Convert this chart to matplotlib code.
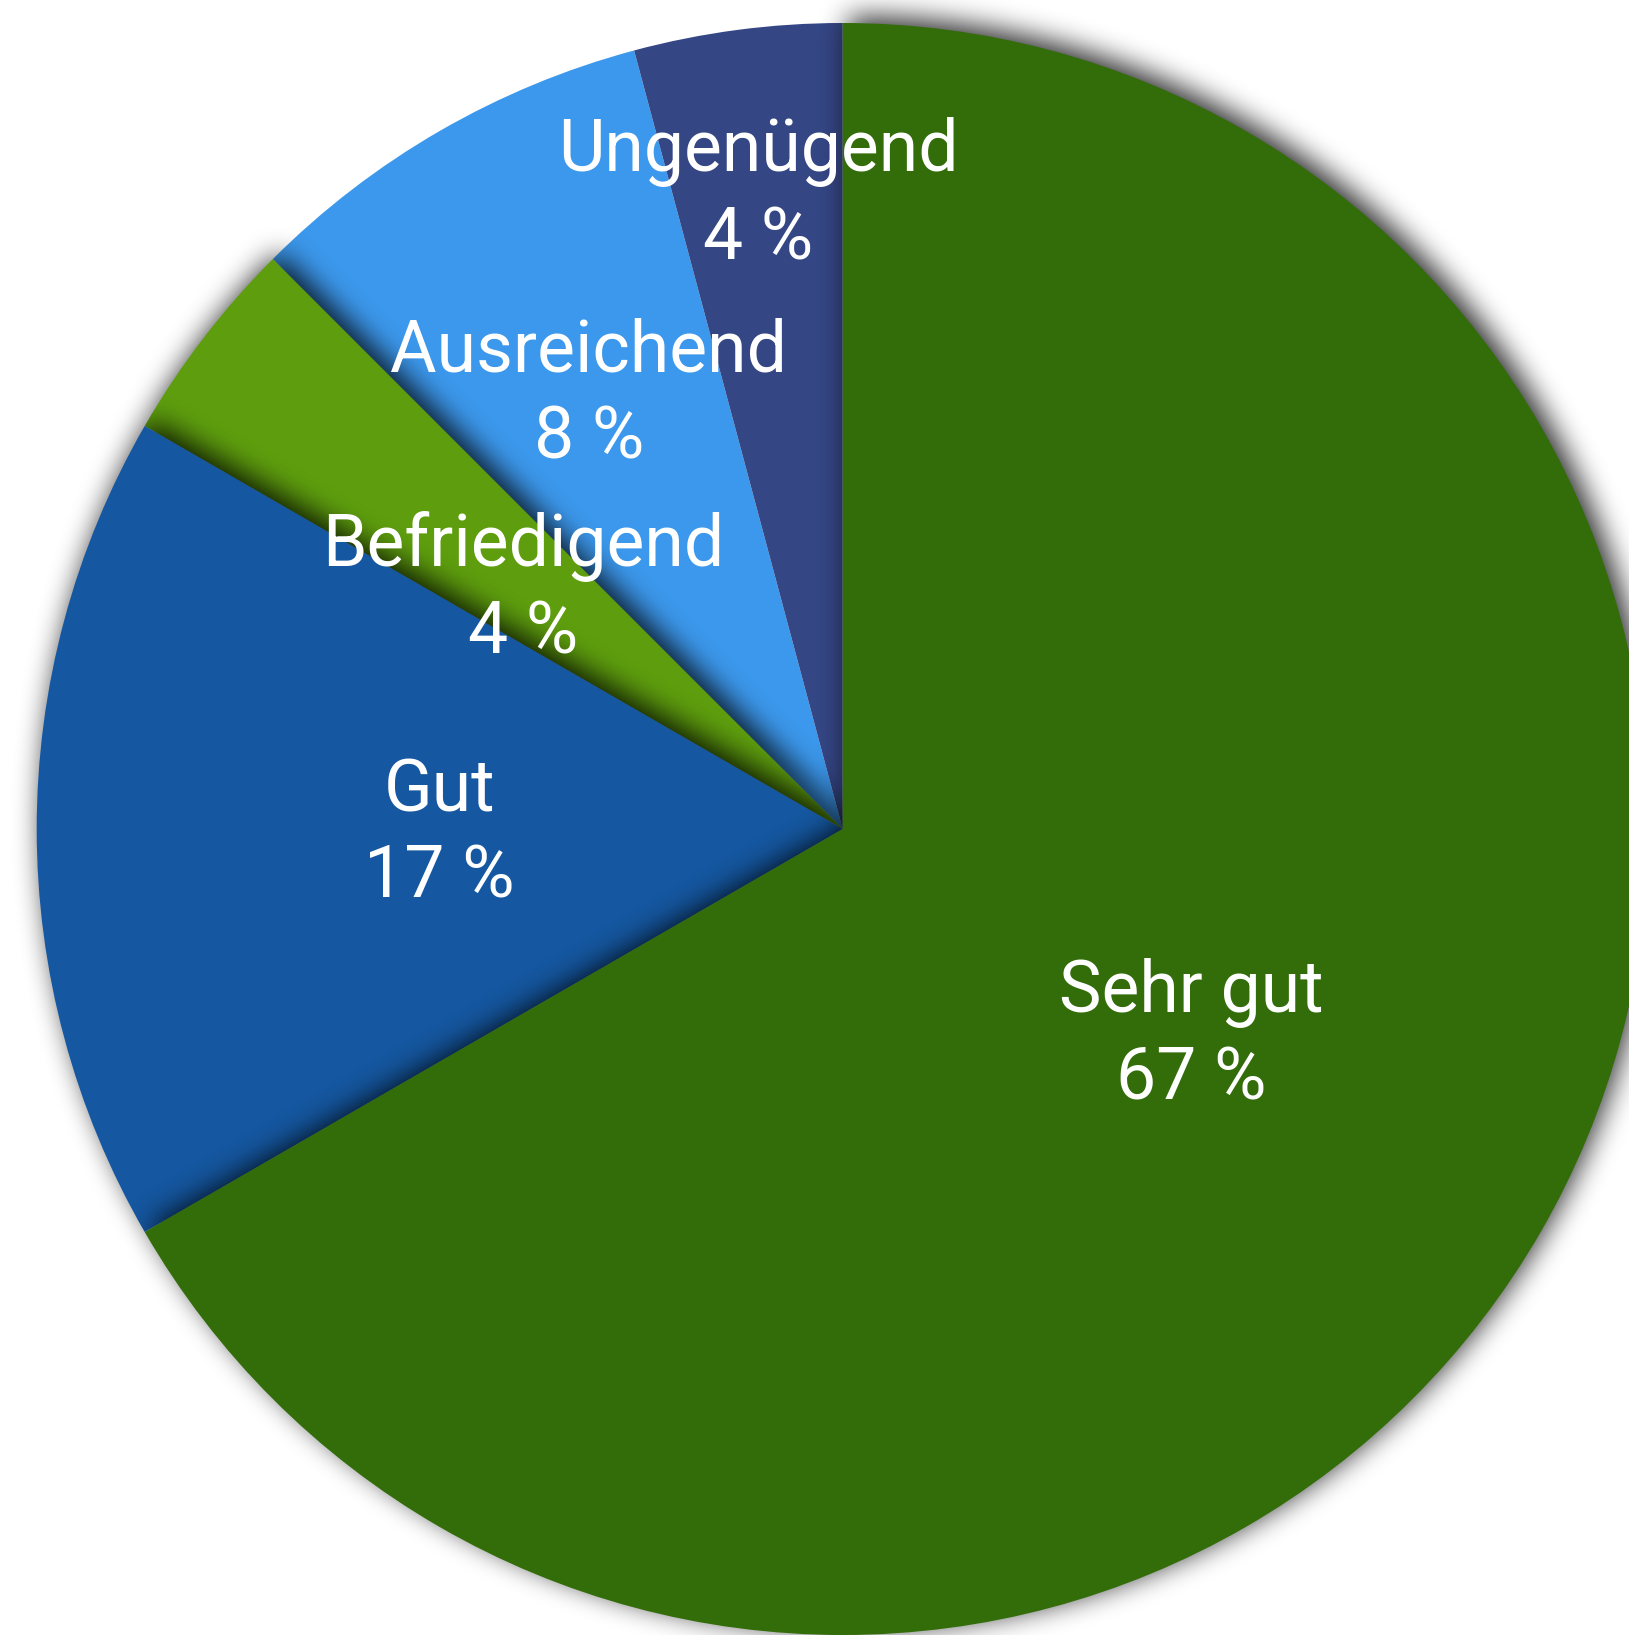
import numpy as np
import matplotlib
matplotlib.use('Agg')
import matplotlib.pyplot as plt
from matplotlib.patches import Wedge

# Noten-Verteilung (Anzahl), im Uhrzeigersinn ab 12 Uhr
noten = ['Sehr gut', 'Gut', 'Befriedigend', 'Ausreichend', 'Ungenügend']
anzahl = [16, 4, 1, 2, 1]
farben = ['#336d0a', '#1557a0', '#5e9e0e', '#3c98ec', '#354685']

# Layout: Abstand der Beschriftung (Anteil am Radius), Zeichenreihenfolge, Schatten ja/nein
label_abstand = [0.5, 0.5, 0.5, 0.63, 0.8]
ebene = [6, 5, 4, 1, 2]
mit_schatten = [True, True, True, False, False]

W, H = 1629, 1635
mitte = (842.7, 806)
radius = 806


def box(a, r, axis):
    pad = [(r + 1, r) if i == axis else (0, 0) for i in range(2)]
    c = np.cumsum(np.pad(a, pad), axis=axis)
    n = 2 * r + 1
    if axis == 0:
        return (c[n:] - c[:-n]) / n
    return (c[:, n:] - c[:, :-n]) / n


def schatten(sigma, dx, dy, alpha):
    # weicher Schlagschatten: Alpha-Kanal verwischen und verschieben
    def filt(im, dpi):
        pad = int(3 * sigma + max(abs(dx), abs(dy)))
        a = np.pad(im[:, :, 3], pad)
        for _ in range(3):
            a = box(a, sigma, 0)
            a = box(a, sigma, 1)
        a = np.roll(a, dx, axis=1)
        a = np.roll(a, -dy, axis=0)
        out = np.zeros(a.shape + (4,))
        out[..., 3] = np.clip(a * alpha, 0, 1)
        return out, -pad, -pad
    return filt


fig = plt.figure(figsize=(W / 100, H / 100), dpi=100)
fig.patch.set_facecolor('white')
ax = fig.add_axes([0, 0, 1, 1])

gesamt = sum(anzahl)
beschriftung = [f'{n}\n{round(a / gesamt * 100)} %' for n, a in zip(noten, anzahl)]

keile, texte = ax.pie(anzahl, labels=beschriftung, colors=farben, startangle=90,
                      counterclock=False, center=mitte, radius=radius,
                      labeldistance=0.5,
                      textprops=dict(color='white', fontsize=51.5, family='Roboto',
                                     linespacing=1.33))

for i, k in enumerate(keile):
    z = ebene[i]
    k.set_zorder(z)
    if mit_schatten[i]:
        s = Wedge(k.center, k.r, k.theta1, k.theta2, facecolor='black',
                  edgecolor='none', zorder=z - 0.5)
        s.set_agg_filter(schatten(13, 6, 6, 0.85))
        ax.add_patch(s)

for k, t, d in zip(keile, texte, label_abstand):
    winkel = np.deg2rad((k.theta1 + k.theta2) / 2)
    t.set_position((k.center[0] + d * k.r * np.cos(winkel),
                    k.center[1] + d * k.r * np.sin(winkel) - 6))
    t.set_ha('center')
    t.set_va('center')
    t.set_zorder(20)

ax.set_xlim(0, W)
ax.set_ylim(0, H)
ax.set_aspect('equal')
ax.axis('off')

fig.savefig('out.png', dpi=100, facecolor='white')
